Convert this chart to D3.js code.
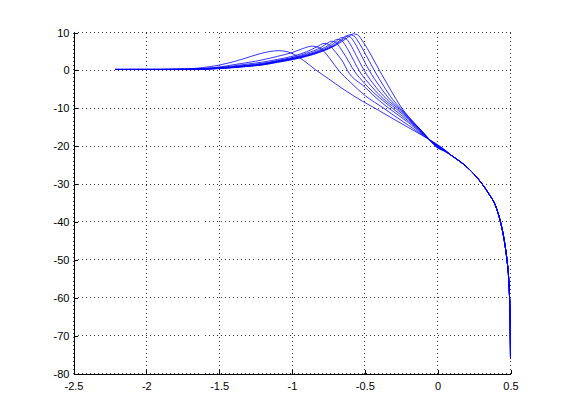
<!DOCTYPE html>
<html>
<head>
<meta charset="utf-8">
<script src="https://cdn.jsdelivr.net/npm/d3@7"></script>
<style>
  body { margin: 0; background: #fff; }
  text { font-family: "Liberation Sans", Arial, sans-serif; font-size: 11px; fill: #000; }
</style>
</head>
<body>
<div id="plot"></div>
<script>
const xTicks = [-2.5, -2, -1.5, -1, -0.5, 0, 0.5];
const yTicks = [10, 0, -10, -20, -30, -40, -50, -60, -70, -80];

// shared high-frequency part of every curve
const tail = [[0.1,-22.6],[0.15,-23.95],[0.2,-25.5],[0.25,-27.4],[0.3,-29.7],[0.35,-32.5],[0.4,-36],[0.43,-39.8],
  [0.45,-43.3],[0.465,-46.8],[0.477,-50.4],[0.486,-54],[0.492,-58.5],[0.496,-63],[0.498,-67.5],[0.499,-71.5],[0.5,-76]];

const c1 = [[-2.215,0.25],[-1.9,0.27],[-1.7,0.45],[-1.6,0.8],[-1.5,1.4],[-1.42,2.1],[-1.33,3.1],[-1.22,4.4],
  [-1.15,5.0],[-1.09,5.2],[-1.04,5.0],[-0.98,4.1],[-0.92,2.6],[-0.84,0.2],[-0.75,-2.2],[-0.65,-4.9],
  [-0.5,-8.5],[-0.43,-10],[-0.3,-12.9],[-0.2,-15.1],[-0.1,-17.3],[0,-19.6],[0.05,-21.0]];
const c2 = [[-2.215,0.25],[-1.9,0.26],[-1.7,0.35],[-1.6,0.55],[-1.5,0.9],[-1.4,1.5],[-1.3,2.1],[-1.2,2.8],
  [-1.1,3.7],[-1.0,4.7],[-0.93,5.7],[-0.86,6.4],[-0.82,6.1],[-0.78,5.0],[-0.74,3.1],[-0.68,0],[-0.6,-3.1],
  [-0.5,-6.6],[-0.37,-10],[-0.3,-11.9],[-0.2,-14.5],[-0.1,-17.2],[0,-19.75],[0.05,-21.05]];
const c3 = [[-2.215,0.25],[-1.9,0.25],[-1.7,0.32],[-1.5,0.75],[-1.3,1.7],[-1.2,2.2],[-1.1,2.9],[-1.0,3.7],
  [-0.9,4.9],[-0.83,6.2],[-0.78,7.1],[-0.75,6.9],[-0.72,5.7],[-0.68,3.8],[-0.65,2.2],[-0.62,0],[-0.5,-4.4],
  [-0.4,-8.0],[-0.335,-10],[-0.2,-13.8],[-0.1,-17.0],[0,-19.9],[0.05,-21.1]];
const c4 = [[-2.215,0.25],[-1.9,0.25],[-1.7,0.3],[-1.5,0.65],[-1.3,1.45],[-1.2,1.9],[-1.1,2.6],[-1.0,3.4],
  [-0.9,4.5],[-0.8,6.1],[-0.76,7.1],[-0.73,7.7],[-0.7,7.4],[-0.67,6.0],[-0.63,3.6],[-0.575,0],[-0.5,-3.5],
  [-0.4,-7.2],[-0.31,-10],[-0.2,-13.4],[-0.1,-16.8],[0,-20.0],[0.05,-21.15]];
const c5 = [[-2.215,0.25],[-1.9,0.25],[-1.7,0.28],[-1.5,0.6],[-1.3,1.3],[-1.2,1.75],[-1.1,2.5],[-1.0,3.2],
  [-0.9,4.2],[-0.8,5.6],[-0.75,6.6],[-0.71,7.8],[-0.69,8.2],[-0.66,7.9],[-0.63,6.4],[-0.59,3.6],[-0.54,0],
  [-0.45,-4.4],[-0.37,-7.6],[-0.29,-10],[-0.2,-13.0],[-0.1,-16.7],[0,-20.1],[0.05,-21.2]];
const c6 = [[-2.215,0.25],[-1.9,0.25],[-1.7,0.26],[-1.5,0.55],[-1.3,1.2],[-1.2,1.65],[-1.1,2.4],[-1.0,3.1],
  [-0.9,4.0],[-0.8,5.3],[-0.72,6.9],[-0.68,8.2],[-0.66,8.7],[-0.63,8.4],[-0.6,6.9],[-0.56,4.0],[-0.505,0],
  [-0.42,-4.6],[-0.35,-7.6],[-0.275,-10],[-0.2,-12.7],[-0.1,-16.6],[0,-20.2],[0.05,-21.25]];
const c7 = [[-2.215,0.25],[-1.9,0.25],[-1.7,0.25],[-1.5,0.52],[-1.3,1.15],[-1.2,1.55],[-1.1,2.3],[-1.0,3.0],
  [-0.9,3.9],[-0.8,5.1],[-0.7,7.0],[-0.65,8.6],[-0.63,9.1],[-0.6,8.8],[-0.57,7.3],[-0.53,4.4],[-0.47,0],
  [-0.4,-4.1],[-0.33,-7.6],[-0.265,-10],[-0.2,-12.5],[-0.1,-16.5],[0,-20.3],[0.05,-21.3]];
const c8 = [[-2.215,0.25],[-1.9,0.25],[-1.7,0.24],[-1.5,0.5],[-1.3,1.1],[-1.2,1.5],[-1.1,2.2],[-1.0,2.9],
  [-0.9,3.8],[-0.8,5.0],[-0.7,6.8],[-0.64,8.5],[-0.605,9.4],[-0.575,9.1],[-0.545,7.6],[-0.5,4.6],[-0.435,0],
  [-0.37,-4.2],[-0.31,-7.6],[-0.255,-10],[-0.2,-12.3],[-0.1,-16.4],[0,-20.4],[0.05,-21.35]];
const c9 = [[-2.215,0.25],[-1.9,0.25],[-1.7,0.23],[-1.5,0.48],[-1.3,1.05],[-1.2,1.45],[-1.1,2.1],[-1.0,2.8],
  [-0.9,3.7],[-0.8,4.9],[-0.7,6.6],[-0.62,8.6],[-0.58,9.65],[-0.55,9.4],[-0.52,8.0],[-0.47,4.9],[-0.4,0],
  [-0.34,-4.0],[-0.29,-7.3],[-0.245,-10],[-0.2,-12.2],[-0.1,-16.3],[0,-20.5],[0.05,-21.4]];

const curves = [c1, c2, c3, c4, c5, c6, c7, c8, c9].map((c) => c.concat(tail));

const svgWidth = 562;
const svgHeight = 419;
const margin = { top: 32, right: 52, bottom: 46, left: 73 };
const width = svgWidth - margin.left - margin.right;
const height = svgHeight - margin.top - margin.bottom;

const svg = d3
  .select("#plot")
  .append("svg")
  .attr("width", svgWidth)
  .attr("height", svgHeight);

const g = svg
  .append("g")
  .attr("transform", `translate(${margin.left + 0.5},${margin.top + 0.5})`);

const x = d3.scaleLinear().domain([-2.5, 0.5]).range([0, width]);
const y = d3.scaleLinear().domain([-80, 10]).range([height, 0]);

// dotted grid
g.append("g")
  .selectAll("line")
  .data(xTicks)
  .enter()
  .append("line")
  .attr("x1", (d) => Math.round(x(d)))
  .attr("x2", (d) => Math.round(x(d)))
  .attr("y1", 0)
  .attr("y2", height)
  .attr("stroke", "#333")
  .attr("stroke-dasharray", "1,3")
  .attr("shape-rendering", "crispEdges");

g.append("g")
  .selectAll("line")
  .data(yTicks)
  .enter()
  .append("line")
  .attr("x1", 0)
  .attr("x2", width)
  .attr("y1", (d) => Math.round(y(d)))
  .attr("y2", (d) => Math.round(y(d)))
  .attr("stroke", "#333")
  .attr("stroke-dasharray", "1,3")
  .attr("shape-rendering", "crispEdges");

const line = d3
  .line()
  .x((d) => x(d[0]))
  .y((d) => y(d[1]))
  .curve(d3.curveMonotoneX);

g.append("g")
  .selectAll("path")
  .data(curves)
  .enter()
  .append("path")
  .attr("d", line)
  .attr("fill", "none")
  .attr("stroke", "#0000ff")
  .attr("stroke-width", 0.8);

const fmt = (d) => String(d);

const xAxis = g
  .append("g")
  .attr("transform", `translate(0,${Math.round(height)})`)
  .call(d3.axisBottom(x).tickValues(xTicks).tickFormat(fmt).tickSizeInner(-4).tickSizeOuter(0).tickPadding(9));

const yAxis = g
  .append("g")
  .call(d3.axisLeft(y).tickValues(yTicks).tickFormat(fmt).tickSizeInner(-4).tickSizeOuter(0).tickPadding(4));

[xAxis, yAxis].forEach((a) => {
  a.attr("font-family", null).attr("font-size", null);
  a.select(".domain").attr("stroke", "#000").attr("shape-rendering", "crispEdges");
  a.selectAll(".tick line").attr("stroke", "#000").attr("shape-rendering", "crispEdges");
});
</script>
</body>
</html>
